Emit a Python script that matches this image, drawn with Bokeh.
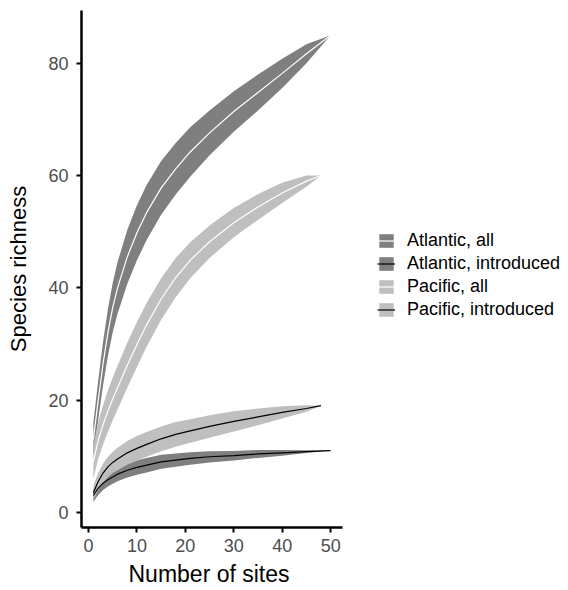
from bokeh.plotting import figure
from bokeh.models import Range1d, Legend, LegendItem, FixedTicker, Title
from bokeh.embed import file_html
from bokeh.resources import INLINE

# ---- data ----
sites_atl = [1, 2, 3, 4, 5, 6, 8, 10, 12, 15, 18, 21, 25, 30, 35, 40, 45, 50]
sites_pac = [1, 2, 3, 4, 5, 6, 8, 10, 12, 15, 18, 21, 25, 30, 35, 40, 45, 48]

atl_all_mean = [13, 20, 26.5, 32, 36.5, 40.0, 45.5, 49.8, 53.4, 57.8, 61.2, 64.2, 67.6, 71.4, 74.8, 78.2, 81.7, 85.0]
atl_all_hw   = [3.0, 3.5, 3.9, 4.2, 4.4, 4.6, 4.8, 4.9, 4.9, 4.8, 4.6, 4.4, 4.0, 3.6, 3.2, 2.6, 1.7, 0.0]

atl_int_mean = [3.0, 4.3, 5.2, 5.8, 6.3, 6.8, 7.5, 8.0, 8.4, 9.0, 9.3, 9.6, 9.9, 10.1, 10.4, 10.6, 10.8, 11.0]
atl_int_hw   = [1.1, 1.2, 1.2, 1.2, 1.2, 1.25, 1.3, 1.3, 1.3, 1.25, 1.2, 1.1, 1.0, 0.85, 0.7, 0.5, 0.25, 0.0]

pac_all_mean = [9, 12.8, 15.6, 18.0, 20.2, 22.2, 26.2, 29.9, 33.4, 38.0, 41.8, 44.9, 48.2, 51.6, 54.4, 56.9, 59.0, 60.0]
pac_all_hw   = [3.0, 3.3, 3.5, 3.7, 3.8, 3.9, 4.0, 4.0, 3.9, 3.7, 3.5, 3.2, 2.9, 2.6, 2.3, 1.8, 1.0, 0.0]

pac_int_mean = [3.5, 5.5, 7.0, 8.1, 8.9, 9.5, 10.6, 11.4, 12.1, 13.1, 13.9, 14.5, 15.3, 16.2, 17.0, 17.8, 18.5, 19.0]
pac_int_hw   = [1.3, 1.5, 1.7, 1.8, 1.9, 2.0, 2.1, 2.2, 2.2, 2.2, 2.2, 2.1, 2.0, 1.8, 1.5, 1.1, 0.6, 0.0]

labels = ["Atlantic, all", "Atlantic, introduced", "Pacific, all", "Pacific, introduced"]
x_ticks = [0, 10, 20, 30, 40, 50]
y_ticks = [0, 20, 40, 60, 80]

FONT = "Liberation Sans"
DARK = "#7f7f7f"
LIGHT = "#bfbfbf"

W, H = 568, 590
LEFT, TOP, BOTTOM = 81, 10, 63
X0, X1 = -1.45, 52.45            # visible axis extent (ggplot-style expansion)
PX_PER_UNIT = 261 / (X1 - X0)    # axis occupies 261 px in the reference
x_end = X0 + (W - LEFT) / PX_PER_UNIT

p = figure(width=W, height=H, output_backend="svg", toolbar_location=None,
           x_range=Range1d(X0, x_end), y_range=Range1d(-2.7, 89.4),
           min_border_left=LEFT, min_border_right=0, min_border_top=TOP,
           min_border_bottom=BOTTOM)
p.outline_line_color = None
p.xgrid.visible = False
p.ygrid.visible = False
p.background_fill_color = "white"
p.border_fill_color = "white"

series = [
    (sites_atl, atl_all_mean, atl_all_hw, DARK, "white"),
    (sites_atl, atl_int_mean, atl_int_hw, DARK, "black"),
    (sites_pac, pac_all_mean, pac_all_hw, LIGHT, "white"),
    (sites_pac, pac_int_mean, pac_int_hw, LIGHT, "black"),
]

bands = []
for xs, m, hw, fc, lc in series:
    lo = [a - b for a, b in zip(m, hw)]
    hi = [a + b for a, b in zip(m, hw)]
    bands.append(p.varea(x=xs, y1=lo, y2=hi, fill_color=fc, fill_alpha=1.0))
lines = []
for xs, m, hw, fc, lc in series:
    lines.append(p.line(x=xs, y=m, line_color=lc, line_width=1.2))

for ax in (p.xaxis[0], p.yaxis[0]):
    ax.axis_line_width = 2.5
    ax.axis_line_color = "black"
    ax.major_tick_line_width = 2
    ax.major_tick_line_color = "black"
    ax.major_tick_out = 5
    ax.major_tick_in = 0
    ax.minor_tick_line_color = None
    ax.major_label_text_font = FONT
    ax.major_label_text_font_size = "18px"
    ax.major_label_text_color = "#4d4d4d"
    ax.axis_label_text_font = FONT
    ax.axis_label_text_font_size = "22px"
    ax.axis_label_text_font_style = "normal"
    ax.axis_label_text_color = "black"

p.xaxis.bounds = (X0, X1)
p.xaxis.ticker = FixedTicker(ticks=x_ticks)
p.yaxis.ticker = FixedTicker(ticks=y_ticks)
p.yaxis.axis_label = "Species richness"
p.xaxis.major_label_standoff = 6
p.yaxis.major_label_standoff = 8
p.yaxis.axis_label_standoff = 14

# x-axis title, centred under the visible axis (not under the whole frame)
xtitle = Title(text="Number of sites", align="left", offset=47, standoff=8,
               text_font=FONT, text_font_size="23px", text_font_style="normal",
               text_color="black")
p.add_layout(xtitle, "below")

items = [LegendItem(label=labels[i], renderers=[bands[i], lines[i]]) for i in range(4)]
legend = Legend(items=items, location=(296, 207), orientation="vertical",
                glyph_width=18, glyph_height=17, label_height=17, spacing=2,
                label_standoff=12, padding=0, margin=0,
                label_text_font=FONT, label_text_font_size="18px",
                label_text_color="black",
                border_line_color=None, background_fill_alpha=0.0)
p.add_layout(legend)

open("out.html", "w").write(file_html(p, INLINE))
